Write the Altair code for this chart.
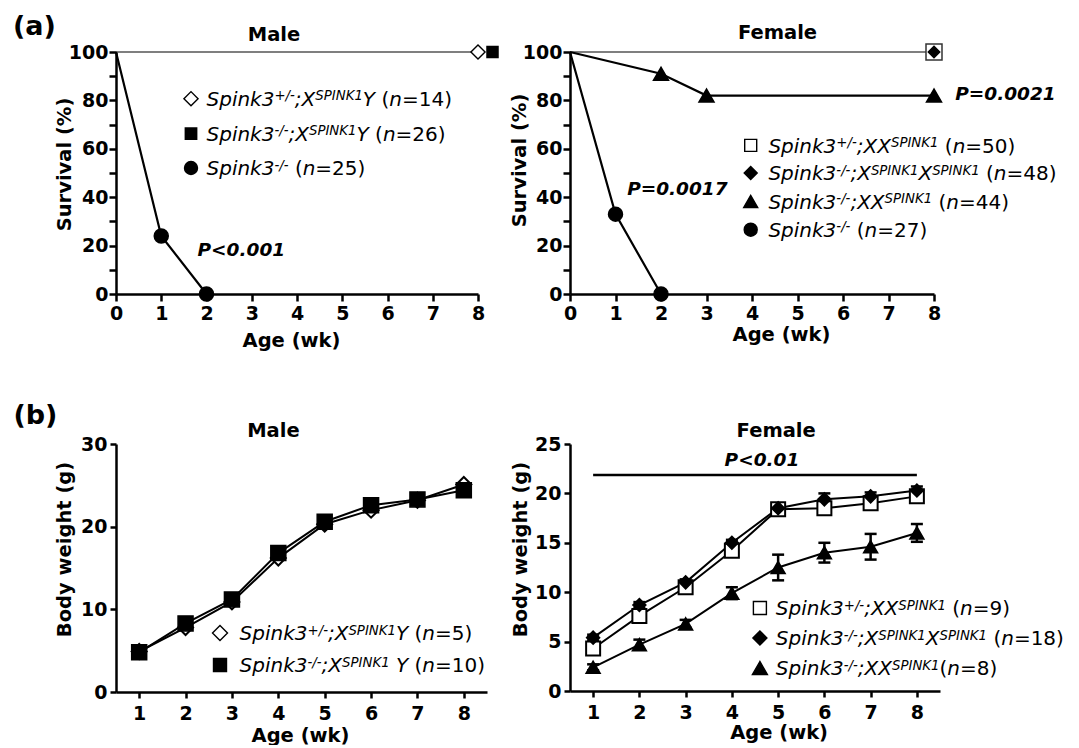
import altair as alt
import pandas as pd

FONT = "DejaVu Sans"

# ---------------- data ----------------
# (a) survival (%) - male
M_SURV_KO_WK = [0, 1, 2]
M_SURV_KO = [100, 24, 0]                 # Spink3-/- (n=25)
M_SURV_TG_WK = [0, 8]
M_SURV_HET_TG = [100, 100]               # Spink3+/-;X^SPINK1 Y (n=14)
M_SURV_KO_TG = [100, 100]                # Spink3-/-;X^SPINK1 Y (n=26)

# (a) survival (%) - female
F_SURV_KO_WK = [0, 1, 2]
F_SURV_KO = [100, 33, 0]                 # Spink3-/- (n=27)
F_SURV_XX_WK = [0, 2, 3, 8]
F_SURV_KO_XX = [100, 91, 82, 82]         # Spink3-/-;XX^SPINK1 (n=44)
F_SURV_TG_WK = [0, 8]
F_SURV_HET_XX = [100, 100]               # Spink3+/-;XX^SPINK1 (n=50)
F_SURV_KO_TG2 = [100, 100]               # Spink3-/-;X^SPINK1 X^SPINK1 (n=48)

# (b) body weight (g)
WEEKS = [1, 2, 3, 4, 5, 6, 7, 8]
M_BW_HET_TG = [4.9, 7.8, 10.9, 16.2, 20.3, 22.0, 23.2, 25.1]
M_BW_KO_TG = [4.8, 8.3, 11.2, 16.8, 20.6, 22.6, 23.3, 24.4]
F_BW_HET_XX = [4.3, 7.6, 10.5, 14.2, 18.4, 18.5, 19.0, 19.7]
F_BW_HET_XX_SEM = [0.4, 0.4, 0.3, 0.4, 0.3, 0.5, 0.5, 0.5]
F_BW_KO_TG2 = [5.4, 8.7, 11.0, 15.0, 18.5, 19.4, 19.7, 20.3]
F_BW_KO_TG2_SEM = [0.3, 0.3, 0.3, 0.3, 0.3, 0.6, 0.4, 0.4]
F_BW_KO_XX = [2.4, 4.7, 6.8, 9.9, 12.5, 14.0, 14.6, 16.0]
F_BW_KO_XX_SEM = [0.3, 0.5, 0.4, 0.6, 1.3, 1.0, 1.3, 0.9]

# tick values
SURV_X_TICKS = [0, 1, 2, 3, 4, 5, 6, 7, 8]
SURV_Y_TICKS = [0, 10, 20, 30, 40, 50, 60, 70, 80, 90, 100]
BW_X_TICKS = [1, 2, 3, 4, 5, 6, 7, 8]
M_BW_Y_TICKS = [0, 10, 20, 30]
F_BW_Y_TICKS = [0, 5, 10, 15, 20, 25]

# texts
P_MA = ["P<0.001"]
P_FA = ["P=0.0017", "P=0.0021"]
P_FB = ["P<0.01"]

LEG_MA = [
    [("Spink3", "i"), ("+/-", "sup"), (";X", "i"), ("SPINK1", "sup"), ("Y", "i"), (" (", "n"), ("n", "i"), ("=14)", "n")],
    [("Spink3", "i"), ("-/-", "sup"), (";X", "i"), ("SPINK1", "sup"), ("Y", "i"), (" (", "n"), ("n", "i"), ("=26)", "n")],
    [("Spink3", "i"), ("-/-", "sup"), (" (", "n"), ("n", "i"), ("=25)", "n")],
]
LEG_FA = [
    [("Spink3", "i"), ("+/-", "sup"), (";XX", "i"), ("SPINK1", "sup"), (" (", "n"), ("n", "i"), ("=50)", "n")],
    [("Spink3", "i"), ("-/-", "sup"), (";X", "i"), ("SPINK1", "sup"), ("X", "i"), ("SPINK1", "sup"), (" (", "n"), ("n", "i"), ("=48)", "n")],
    [("Spink3", "i"), ("-/-", "sup"), (";XX", "i"), ("SPINK1", "sup"), (" (", "n"), ("n", "i"), ("=44)", "n")],
    [("Spink3", "i"), ("-/-", "sup"), (" (", "n"), ("n", "i"), ("=27)", "n")],
]
LEG_MB = [
    [("Spink3", "i"), ("+/-", "sup"), (";X", "i"), ("SPINK1", "sup"), ("Y", "i"), (" (", "n"), ("n", "i"), ("=5)", "n")],
    [("Spink3", "i"), ("-/-", "sup"), (";X", "i"), ("SPINK1", "sup"), (" Y", "i"), (" (", "n"), ("n", "i"), ("=10)", "n")],
]
LEG_FB = [
    [("Spink3", "i"), ("+/-", "sup"), (";XX", "i"), ("SPINK1", "sup"), (" (", "n"), ("n", "i"), ("=9)", "n")],
    [("Spink3", "i"), ("-/-", "sup"), (";X", "i"), ("SPINK1", "sup"), ("X", "i"), ("SPINK1", "sup"), (" (", "n"), ("n", "i"), ("=18)", "n")],
    [("Spink3", "i"), ("-/-", "sup"), (";XX", "i"), ("SPINK1", "sup"), ("(", "n"), ("n", "i"), ("=8)", "n")],
]

# ---------------- helpers ----------------
# DejaVu Sans advance widths (em)
W = {' ': 0.318, '(': 0.390, ')': 0.390, '+': 0.838, '-': 0.361, '/': 0.337, ';': 0.337,
     '=': 0.838, 'S': 0.635, 'P': 0.603, 'I': 0.295, 'N': 0.748, 'K': 0.656, 'X': 0.686,
     'Y': 0.612, 'p': 0.635, 'i': 0.278, 'n': 0.634, 'k': 0.579}
for _d in "0123456789":
    W[_d] = 0.636


def legend_text_df(x0, ys, rows, f=20.0, s=13.3, rise=5.5):
    recs = []
    for yc, parts in zip(ys, rows):
        x = x0
        base = yc + 0.36 * f
        for txt, kind in parts:
            size = s if kind == "sup" else f
            lead = len(txt) - len(txt.lstrip(" "))
            x += lead * W[" "] * size
            core = txt.strip(" ")
            recs.append({"px": x, "py": base - (rise if kind == "sup" else 0.0), "text": core,
                         "fs": size, "style": "normal" if kind == "n" else "italic"})
            x += sum(W[c] for c in core) * size
    return pd.DataFrame(recs)


def px_enc():
    return dict(x=alt.X("px:Q", scale=None, axis=None), y=alt.Y("py:Q", scale=None, axis=None))


def legend_layers(x_marker, x_text, ys, rows, shapes, fills, sizes):
    df = legend_text_df(x_text, ys, rows)
    layers = []
    for style in ["italic", "normal"]:
        layers.append(
            alt.Chart(df).transform_filter(alt.datum.style == style)
            .mark_text(font=FONT, fontStyle=style, align="left", baseline="alphabetic", color="black")
            .encode(text="text:N", size=alt.Size("fs:Q", scale=None, legend=None), **px_enc())
        )
    mk = pd.DataFrame({"px": [x_marker] * len(ys), "py": ys, "shape": shapes, "fill": fills, "size": sizes})
    layers.append(
        alt.Chart(mk).mark_point(filled=True, opacity=1, stroke="black", strokeWidth=1.4)
        .encode(shape=alt.Shape("shape:N", scale=None, legend=None),
                fill=alt.Fill("fill:N", scale=None, legend=None),
                size=alt.Size("size:Q", scale=None, legend=None), **px_enc())
    )
    return layers


def label_layer(texts, xs, ys, size, align="center", baseline="middle"):
    df = pd.DataFrame({"px": xs, "py": ys, "text": texts})
    return (alt.Chart(df).mark_text(font=FONT, fontWeight="bold", fontSize=size, align=align,
                                    baseline=baseline, color="black")
            .encode(text="text:N", **px_enc()))


def encoders(xdom, xvals, ydom, yvals, xt, yt, tick, xpad, ypad, ylabel_expr=None):
    common = dict(tickSize=tick, labelFlush=False, labelOverlap=False,
                  titleBaseline="middle", titleAlign="center")
    xa = alt.Axis(values=xvals, title=xt[0], titleX=xt[1], titleY=xt[2], labelPadding=xpad, **common)
    ykw = dict(values=yvals, title=yt[0], titleX=yt[1], titleY=yt[2], labelPadding=ypad, **common)
    if ylabel_expr:
        ykw["labelExpr"] = ylabel_expr
    ya = alt.Axis(**ykw)
    xs = alt.Scale(domain=xdom, nice=False, zero=False)
    ys = alt.Scale(domain=ydom, nice=False, zero=False)
    return (lambda f: alt.X(f"{f}:Q", scale=xs, axis=xa)), (lambda f: alt.Y(f"{f}:Q", scale=ys, axis=ya))


def sdf(wk, vals):
    return pd.DataFrame({"age": wk, "value": vals})


def line(df, X, Y, color="black", width=2.2):
    return alt.Chart(df).mark_line(color=color, strokeWidth=width).encode(x=X("age"), y=Y("value"))


def pts(df, X, Y, shape, fill, size, sw=1.5, stroke="black", xoff=0, only_after_zero=True):
    c = alt.Chart(df)
    if only_after_zero:
        c = c.transform_filter("datum.age > 0")
    kw = dict(shape=shape, filled=True, fill=fill, stroke=stroke, strokeWidth=sw, size=size, opacity=1)
    if xoff:
        kw["xOffset"] = xoff
    return c.mark_point(**kw).encode(x=X("age"), y=Y("value"))


def ptext(texts, xs, ys, X, Y):
    df = pd.DataFrame({"age": xs, "value": ys, "text": texts})
    return (alt.Chart(df).mark_text(font=FONT, fontSize=18.5, fontWeight="bold", fontStyle="italic",
                                    align="center", baseline="middle", color="black")
            .encode(x=X("age"), y=Y("value"), text="text:N"))


def errbars(wk, vals, sem, X, Y):
    df = pd.DataFrame({"age": wk, "lo": [v - e for v, e in zip(vals, sem)],
                       "hi": [v + e for v, e in zip(vals, sem)]})
    caps = pd.DataFrame({"age": wk + wk, "cap": list(df["lo"]) + list(df["hi"])})
    r = alt.Chart(df).mark_rule(color="black", strokeWidth=2.5).encode(x=X("age"), y=Y("lo"), y2="hi:Q")
    t = (alt.Chart(caps).mark_tick(orient="horizontal", color="black", size=12, thickness=2.5, opacity=1)
         .encode(x=X("age"), y=Y("cap")))
    return [r, t]


SURV_LABEL_EXPR = "datum.value % 20 == 0 ? datum.label : ''"

# ---------------- (a) male ----------------
X, Y = encoders([0, 8], SURV_X_TICKS, [0, 100], SURV_Y_TICKS,
                ("Age (wk)", 175, 46), ("Survival (%)", -52, 112), 7, 3.5, 1, SURV_LABEL_EXPR)
ma_layers = [
    line(sdf(M_SURV_TG_WK, M_SURV_HET_TG), X, Y, color="#555555", width=1.3),
    line(sdf(M_SURV_KO_WK, M_SURV_KO), X, Y),
    pts(sdf(M_SURV_KO_WK, M_SURV_KO), X, Y, "circle", "black", 196),
    pts(sdf(M_SURV_TG_WK, M_SURV_HET_TG), X, Y, "diamond", "white", 200, sw=1.4),
    pts(sdf(M_SURV_TG_WK, M_SURV_KO_TG), X, Y, "square", "black", 121, xoff=14.5),
    ptext(P_MA, [2.77], [18.3], X, Y),
    label_layer(["Male"], [158], [-17], 19.5),
    label_layer(["(a)"], [-103], [-17.3], 27, align="left", baseline="alphabetic"),
] + legend_layers(75, 90.5, [46.7, 81.7, 116], LEG_MA,
                  ["diamond", "square", "circle"], ["white", "black", "black"], [200, 130, 169])
male_a = alt.layer(*ma_layers).properties(width=362, height=242)

# ---------------- (a) female ----------------
X, Y = encoders([0, 8], SURV_X_TICKS, [0, 100], SURV_Y_TICKS,
                ("Age (wk)", 211, 40), ("Survival (%)", -51, 108), 7, 3.5, 1, SURV_LABEL_EXPR)
fa_layers = [
    line(sdf(F_SURV_TG_WK, F_SURV_HET_XX), X, Y, color="#555555", width=1.3),
    line(sdf(F_SURV_XX_WK, F_SURV_KO_XX), X, Y),
    line(sdf(F_SURV_KO_WK, F_SURV_KO), X, Y),
    pts(sdf(F_SURV_KO_WK, F_SURV_KO), X, Y, "circle", "black", 196),
    pts(sdf(F_SURV_XX_WK, F_SURV_KO_XX), X, Y, "triangle-up", "black", 225),
    pts(sdf(F_SURV_TG_WK, F_SURV_HET_XX), X, Y, "square", "white", 256, sw=1.5, stroke="#333333"),
    pts(sdf(F_SURV_TG_WK, F_SURV_KO_TG2), X, Y, "diamond", "black", 130),
    ptext(P_FA, [2.36, 9.57], [43.5, 82.8], X, Y),
    label_layer(["Female"], [207.5], [-19], 19.5),
] + legend_layers(180.7, 198.4, [93.4, 121, 149.4, 177.7], LEG_FA,
                  ["square", "diamond", "triangle-up", "circle"],
                  ["white", "black", "black", "black"], [144, 169, 196, 169])
female_a = alt.layer(*fa_layers).properties(width=364, height=242)

# ---------------- (b) male ----------------
X, Y = encoders([0.5, 8.5], BW_X_TICKS, [0, 30], M_BW_Y_TICKS,
                ("Age (wk)", 184, 43), ("Body weight (g)", -52, 105), 6, 6.5, 3)
mb_layers = [
    line(sdf(WEEKS, M_BW_HET_TG), X, Y, width=2),
    line(sdf(WEEKS, M_BW_KO_TG), X, Y, width=2),
    pts(sdf(WEEKS, M_BW_HET_TG), X, Y, "diamond", "white", 225, sw=2),
    pts(sdf(WEEKS, M_BW_KO_TG), X, Y, "square", "black", 225),
    label_layer(["Male"], [157.4], [-12.6], 19.5),
    label_layer(["(b)"], [-102.6], [-20.5], 27, align="left", baseline="alphabetic"),
] + legend_layers(104, 123.6, [189, 221], LEG_MB, ["diamond", "square"], ["white", "black"], [225, 169])
male_b = alt.layer(*mb_layers).properties(width=371, height=248)

# ---------------- (b) female ----------------
X, Y = encoders([0.5, 8.5], BW_X_TICKS, [0, 25], F_BW_Y_TICKS,
                ("Age (wk)", 208.6, 41.5), ("Body weight (g)", -50, 105), 6, 6.5, 3)
sig = pd.DataFrame({"age": [1], "age2": [8], "value": [21.85]})
fb_layers = (
    [line(sdf(WEEKS, F_BW_HET_XX), X, Y, width=2),
     line(sdf(WEEKS, F_BW_KO_TG2), X, Y, width=2),
     line(sdf(WEEKS, F_BW_KO_XX), X, Y, width=2)]
    + errbars(WEEKS, F_BW_HET_XX, F_BW_HET_XX_SEM, X, Y)
    + errbars(WEEKS, F_BW_KO_TG2, F_BW_KO_TG2_SEM, X, Y)
    + errbars(WEEKS, F_BW_KO_XX, F_BW_KO_XX_SEM, X, Y)
    + [pts(sdf(WEEKS, F_BW_HET_XX), X, Y, "square", "white", 196, sw=2),
       pts(sdf(WEEKS, F_BW_KO_TG2), X, Y, "diamond", "black", 169),
       pts(sdf(WEEKS, F_BW_KO_XX), X, Y, "triangle-up", "black", 196),
       alt.Chart(sig).mark_rule(color="black", strokeWidth=2.5).encode(x=X("age"), x2="age2:Q", y=Y("value")),
       ptext(P_FB, [4.65], [23.4], X, Y),
       label_layer(["Female"], [206.2], [-12.6], 19.5)]
    + legend_layers(189.9, 205.8, [164, 194, 224], LEG_FB,
                    ["square", "diamond", "triangle-up"], ["white", "black", "black"], [169, 196, 225])
)
female_b = alt.layer(*fb_layers).properties(width=370, height=247)

chart = (
    alt.concat(male_a, female_a, male_b, female_b, columns=2,
               spacing={"row": 144, "column": 83}, bounds="flush", align="all")
    .properties(padding={"left": 5, "top": 4, "right": 0, "bottom": 0}, background="white")
    .configure_view(stroke=None)
    .configure_axis(domainColor="black", tickColor="black", labelColor="black", titleColor="black",
                    labelFont=FONT, titleFont=FONT, labelFontWeight="bold", titleFontWeight="bold",
                    labelFontSize=19, titleFontSize=19.5, grid=False, domainWidth=2.5, tickWidth=2.5)
)

chart.save("out.html", embed_options={"renderer": "svg", "actions": False})
